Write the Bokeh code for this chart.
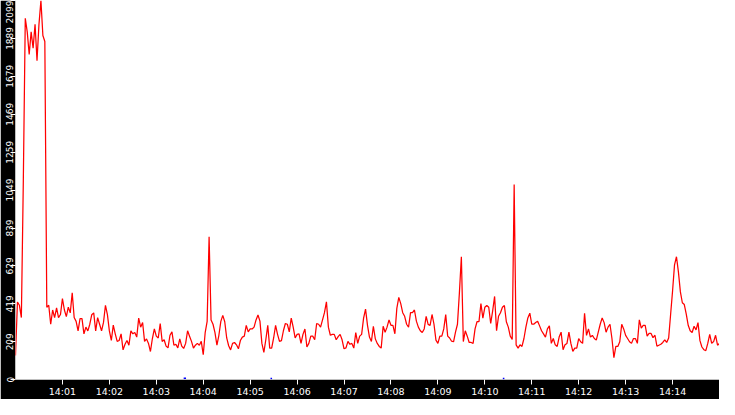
import numpy as np
import pandas as pd
from bokeh.plotting import figure
from bokeh.models import Range1d, FixedTicker, DatetimeTickFormatter
from bokeh.embed import file_html
from bokeh.resources import INLINE

# ---------------- data ----------------
day = "2024-01-01"
start_time = "14:00:00"
end_time = "14:15:00"
sample_interval_s = 2.5

red_values = [
    133, 429, 411, 343, 1100, 2000, 1925, 1800, 1925, 1835,
    1967, 1765, 1967, 2099, 1905, 1872, 400, 411, 306, 385,
    343, 396, 343, 360, 448, 385, 348, 401, 369, 480,
    343, 322, 269, 337, 337, 253, 290, 269, 306, 359,
    369, 269, 343, 306, 269, 316, 411, 359, 269, 216,
    301, 253, 211, 216, 253, 164, 195, 216, 190, 269,
    # 14:02:30
    253, 260, 235, 340, 290, 316, 211, 225, 200, 155,
    227, 280, 240, 230, 310, 211, 220, 185, 175, 245,
    264, 190, 195, 175, 225, 185, 172, 200, 270, 240,
    211, 174, 190, 200, 190, 211, 137, 260, 322, 790,
    330, 306, 260, 190, 245, 322, 355, 320, 230, 187,
    164, 200, 205, 192, 170, 216, 235, 240, 300, 264,
    # 14:05:00
    280, 280, 290, 330, 357, 323, 200, 150, 220, 300,
    174, 174, 230, 300, 250, 211, 215, 270, 310, 306,
    264, 340, 290, 230, 250, 253, 200, 250, 280, 180,
    200, 240, 240, 220, 310, 306, 290, 330, 370, 430,
    290, 245, 250, 250, 220, 237, 250, 220, 170, 175,
    211, 195, 200, 174, 260, 200, 240, 250, 340, 390,
    # 14:07:30
    300, 235, 211, 295, 225, 200, 183, 174, 295, 262,
    290, 330, 300, 300, 253,
    394, 455, 420, 370, 350, 306, 290, 370, 370, 385,
    323, 290, 270, 260, 280, 350, 305, 300, 360, 306,
    218, 200, 240, 240, 280, 359, 240, 230, 212, 209,
    262,
    # 14:09:25
    306, 481, 680, 210, 270, 240, 205, 205, 200, 280,
    320, 320, 420, 340, 400, 410, 400, 310, 380, 460,
    270, 350, 370, 400, 410, 320, 290, 240, 222, 1080,
    192, 174, 192, 183, 227, 290, 341, 367, 306, 306,
    316, 323, 297, 270, 253,
    # 14:11:20
    235, 280, 297, 200, 227, 192, 183, 235, 262, 165,
    192, 200, 262, 200, 156, 174, 174, 227, 209, 200,
    367, 244, 280, 235, 244, 227, 218, 262, 306, 341,
    315, 262, 290, 306, 227, 121, 183, 183, 209, 306,
    280, 244, 227, 209, 200,
    # 14:13:15
    227, 227, 200, 330, 285, 300, 300, 240, 255, 255,
    232, 245, 185, 190, 195, 205, 220, 205, 230, 360,
    490, 635, 680, 595, 485, 425, 415, 362, 300, 270,
    260, 295, 275, 315, 215, 180, 165, 160, 200, 250,
    200, 210, 245, 190, 200,
]

# second (blue) series: only its small non-zero blips are visible
blue_start_times = ["14:03:35", "14:05:26", "14:10:23"]
blue_end_times = ["14:03:38", "14:05:28", "14:10:25"]
blue_values = [7, 6, 6]

y_ticks = [0, 209, 419, 629, 839, 1049, 1259, 1469, 1679, 1889, 2099]
x_tick_labels = ["14:01", "14:02", "14:03", "14:04", "14:05", "14:06", "14:07",
                 "14:08", "14:09", "14:10", "14:11", "14:12", "14:13", "14:14"]

# ---------------- build ----------------
t0 = pd.Timestamp(f"{day} {start_time}")
t1 = pd.Timestamp(f"{day} {end_time}")
red_times = t0 + pd.to_timedelta(np.arange(len(red_values)) * sample_interval_s, unit="s")

epoch = pd.Timestamp("1970-01-01")
x_tick_ms = [(pd.Timestamp(f"{day} {lab}") - epoch) / pd.Timedelta(milliseconds=1)
             for lab in x_tick_labels]

p = figure(width=719, height=399, x_axis_type="datetime",
           output_backend="svg", toolbar_location=None,
           x_range=Range1d(t0, t1), y_range=Range1d(0, y_ticks[-1]),
           min_border_left=15, min_border_bottom=17,
           min_border_top=0, min_border_right=0,
           border_fill_color="black", background_fill_color="white",
           outline_line_color=None)

p.xgrid.visible = False
p.ygrid.visible = False

p.line(red_times, red_values, line_color="#ff0000", line_width=1.25)

bx0 = [pd.Timestamp(f"{day} {t}") for t in blue_start_times]
bx1 = [pd.Timestamp(f"{day} {t}") for t in blue_end_times]
p.segment(x0=bx0, y0=blue_values, x1=bx1, y1=blue_values,
          line_color="#0000ff", line_width=1.5)

fmt = "%H:%M"
p.xaxis.ticker = FixedTicker(ticks=x_tick_ms)
p.xaxis.formatter = DatetimeTickFormatter(seconds=fmt, minsec=fmt, minutes=fmt,
                                          hourmin=fmt, hours=fmt)
p.yaxis.ticker = FixedTicker(ticks=y_ticks)
p.yaxis.major_label_orientation = "vertical"

for ax in (p.xaxis[0], p.yaxis[0]):
    ax.axis_line_color = None
    ax.major_tick_line_color = "white"
    ax.major_tick_out = 5
    ax.major_tick_in = 0
    ax.minor_tick_line_color = None
    ax.major_label_text_color = "white"
    ax.major_label_text_font = "DejaVu Sans"

p.xaxis.major_label_text_font_size = "9.5px"
p.yaxis.major_label_text_font_size = "9px"
p.xaxis.major_label_standoff = 1
p.yaxis.major_label_standoff = -3

open("out.html", "w").write(file_html(p, INLINE))
